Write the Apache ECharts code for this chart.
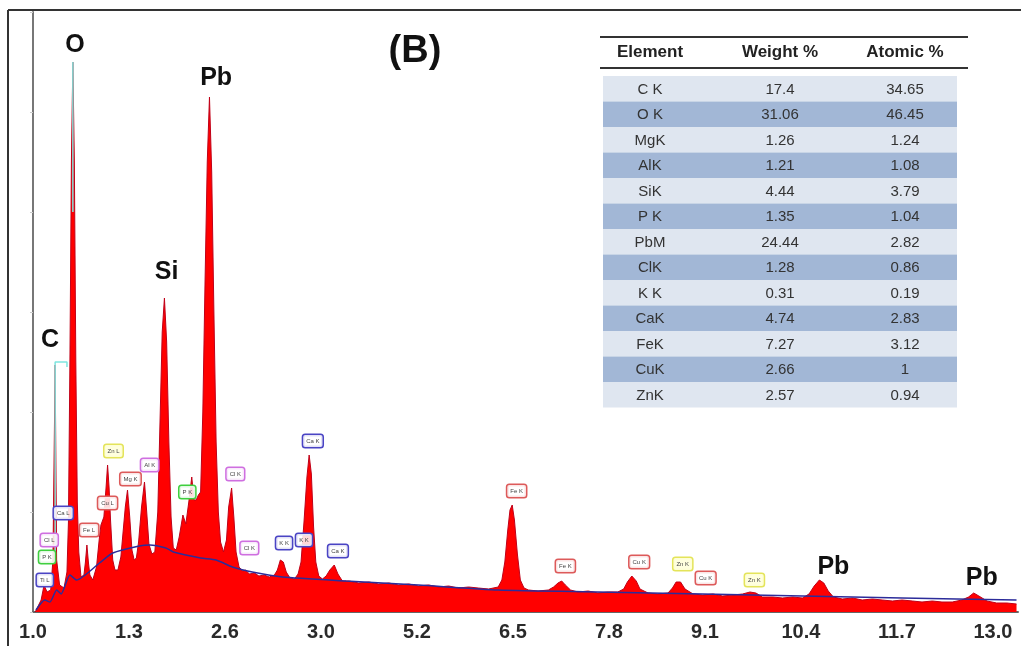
<!DOCTYPE html>
<html><head><meta charset="utf-8">
<script src="https://cdn.jsdelivr.net/npm/echarts@6/dist/echarts.min.js"></script>
<style>html,body{margin:0;padding:0;background:#fff}#c{width:1021px;height:646px}</style>
</head><body><div id="c"></div>
<script>
// x tick labels as printed on the original figure (energy, keV)
const tickLabels = ['1.0','1.3','2.6','3.0','5.2','6.5','7.8','9.1','10.4','11.7','13.0'];

// EDS spectrum [energy keV, counts]
const spectrum = [
[0.03,0],[0.07,6],[0.11,12],[0.15,27],[0.19,20],[0.24,22],[0.27,52],[0.30,247],[0.32,52],[0.36,27],
[0.42,24],[0.46,40],[0.48,90],[0.50,250],[0.52,450],[0.54,550],[0.56,450],[0.58,250],[0.60,110],[0.62,60],
[0.65,35],[0.69,37],[0.71,50],[0.73,67],[0.75,50],[0.77,37],[0.81,32],[0.86,45],[0.90,75],[0.92,87],
[0.96,95],[0.99,125],[1.01,147],[1.03,125],[1.05,92],[1.08,52],[1.11,42],[1.15,42],[1.19,55],[1.22,80],
[1.25,105],[1.28,122],[1.31,95],[1.34,62],[1.37,52],[1.40,54],[1.43,70],[1.47,105],[1.51,130],[1.54,100],
[1.57,68],[1.61,58],[1.65,60],[1.69,100],[1.72,190],[1.75,280],[1.78,314],[1.81,270],[1.84,170],[1.87,95],
[1.90,64],[1.94,62],[1.98,75],[2.03,97],[2.07,88],[2.11,110],[2.15,135],[2.18,112],[2.21,112],[2.24,117],
[2.27,120],[2.30,200],[2.33,330],[2.36,450],[2.39,515],[2.42,440],[2.45,300],[2.48,170],[2.51,100],[2.54,70],
[2.58,60],[2.62,72],[2.65,105],[2.69,124],[2.72,95],[2.75,60],[2.79,45],[2.84,41],[2.88,42],[2.93,38],
[3.00,39],[3.06,36],[3.13,37],[3.20,35],[3.27,37],[3.31,42],[3.35,52],[3.39,50],[3.43,40],[3.48,34],
[3.54,33],[3.59,38],[3.63,50],[3.67,90],[3.71,135],[3.74,157],[3.77,138],[3.80,85],[3.83,50],[3.87,36],
[3.92,33],[3.97,36],[4.02,42],[4.08,47],[4.13,38],[4.19,31],[4.28,31],[4.41,29],[4.55,30],[4.68,28],
[4.82,29],[4.95,27],[5.09,28],[5.22,26],[5.36,27],[5.49,25],[5.63,26],[5.76,24],[5.90,25],[6.03,24],
[6.17,23],[6.30,25],[6.35,32],[6.39,50],[6.43,82],[6.46,102],[6.49,107],[6.52,92],[6.56,58],[6.60,32],
[6.65,24],[6.71,22],[6.84,21],[6.98,22],[7.05,25],[7.11,29],[7.16,31],[7.21,27],[7.28,22],[7.38,20],
[7.52,21],[7.65,19],[7.79,20],[7.92,20],[8.00,23],[8.05,30],[8.11,36],[8.17,31],[8.22,23],[8.33,19],
[8.46,18],[8.60,19],[8.66,24],[8.71,30],[8.77,30],[8.83,23],[8.94,18],[9.07,17],[9.21,18],[9.34,16],
[9.48,17],[9.61,18],[9.71,20],[9.79,19],[9.88,15],[10.02,15],[10.15,14],[10.29,15],[10.42,14],[10.51,18],
[10.58,26],[10.65,32],[10.71,29],[10.77,21],[10.84,15],[10.96,13],[11.10,14],[11.23,12],[11.37,13],[11.50,12],
[11.64,11],[11.77,12],[11.91,11],[12.04,10],[12.18,11],[12.31,10],[12.45,10],[12.58,12],[12.67,15],[12.74,19],
[12.81,16],[12.92,11],[13.05,9],[13.19,9],[13.32,8]
];

// background (bremsstrahlung) fit [keV, counts]
const continuum = [
[0.04,2],[0.16,12],[0.23,10],[0.32,22],[0.38,18],[0.50,37],[0.59,32],[0.90,49],[1.08,59],[1.44,66],
[1.58,67],[1.80,64],[1.90,60],[2.27,54],[2.48,52],[2.70,45],[2.97,40],[3.38,35],[4.24,31],[5.22,27],
[6.30,22],[7.65,20],[9.07,18],[10.42,16],[11.77,14],[13.32,12]
];

// cyan peak-marker lines
const markerC = [[0.30,60],[0.30,250],[0.46,250],[0.46,245]];
const markerO = [[0.54,400],[0.54,550]];

// big element labels [keV, counts, text]
const peakLabels = [
[0.23,272,'C'],[0.57,567,'O'],[1.81,340,'Si'],[2.48,534,'Pb'],[10.84,45,'Pb'],[12.85,34,'Pb']
];

// small line-identification boxes [keV, counts, text, colour]
const lineBoxes = [
[0.16,32,'Ti L','blue'],[0.19,55,'P K','green'],[0.22,72,'Cl L','violet'],[0.41,99,'Ca L','blue'],
[0.76,82,'Fe L','red'],[1.01,109,'Cu L','red'],[1.09,161,'Zn L','yellow'],[1.32,133,'Mg K','red'],
[1.58,147,'Al K','violet'],[2.09,120,'P K','green'],[2.74,138,'Cl K','violet'],[2.93,64,'Cl K','violet'],
[3.40,69,'K K','blue'],[3.67,72,'K K','blue'],[3.79,171,'Ca K','blue'],[4.13,61,'Ca K','blue'],
[6.55,121,'Fe K','red'],[7.21,46,'Fe K','red'],[8.21,50,'Cu K','red'],[8.80,48,'Zn K','yellow'],
[9.11,34,'Cu K','red'],[9.77,32,'Zn K','yellow']
];

// quantification table
const tableHeader = ['Element','Weight %','Atomic %'];
const tableElements = ['C K','O K','MgK','AlK','SiK','P K','PbM','ClK','K K','CaK','FeK','CuK','ZnK'];
const tableWeight = ['17.4','31.06','1.26','1.21','4.44','1.35','24.44','1.28','0.31','4.74','7.27','2.66','2.57'];
const tableAtomic = ['34.65','46.45','1.24','1.08','3.79','1.04','2.82','0.86','0.19','2.83','3.12','1','0.94'];

const boxColors = {
  blue:  {b:'#4a44c4', f:'rgba(255,255,255,0.85)'},
  violet:{b:'#cf6fe0', f:'rgba(255,255,255,0.85)'},
  green: {b:'#3fcf3f', f:'rgba(255,255,255,0.85)'},
  red:   {b:'#dd5a5a', f:'rgba(255,255,255,0.85)'},
  yellow:{b:'#e4e45a', f:'rgba(255,255,220,0.95)'}
};

const FONT = '"Liberation Sans", Arial, sans-serif';

// table graphic built from arrays
const T = {x:603, w:354, colX:[650,780,905], rowY0:76, rowH:25.5};
const tableGraphics = [];
tableGraphics.push({type:'line', shape:{x1:600,y1:37,x2:968,y2:37}, style:{stroke:'#333',lineWidth:2}});
tableGraphics.push({type:'line', shape:{x1:600,y1:68,x2:968,y2:68}, style:{stroke:'#333',lineWidth:2}});
tableHeader.forEach((h,i)=>tableGraphics.push({type:'text', x:T.colX[i], y:52,
  style:{text:h, font:'bold 17px '+FONT, fill:'#222', align:'center', verticalAlign:'middle'}}));
tableElements.forEach((e,r)=>{
  const y = T.rowY0 + r*T.rowH;
  tableGraphics.push({type:'rect', shape:{x:T.x,y:y,width:T.w,height:T.rowH},
    style:{fill: r%2===0 ? '#dfe6f0' : '#a2b7d6'}});
  [e, tableWeight[r], tableAtomic[r]].forEach((t,i)=>tableGraphics.push({type:'text', x:T.colX[i], y:y+T.rowH/2+1,
    style:{text:t, font:'15px '+FONT, fill:'#333', align:'center', verticalAlign:'middle'}}));
});

const chart = echarts.init(document.getElementById('c'));
chart.setOption({
  animation:false,
  backgroundColor:'#fff',
  grid:{left:33, right:0, top:12, bottom:34},
  xAxis:{type:'value', min:0, max:13.34, interval:1.3,
    axisLine:{show:true, onZero:false, lineStyle:{color:'#666', width:2}},
    axisTick:{show:false}, splitLine:{show:false},
    axisLabel:{margin:10, color:'#2a2a2a', fontSize:20, fontWeight:'bold', fontFamily:FONT,
      formatter:v=>{const k=Math.round(v/1.3); return Math.abs(v-k*1.3)<0.01 ? (tickLabels[k]||'') : '';}}
  },
  yAxis:{type:'value', min:0, max:600,
    axisLine:{show:true, lineStyle:{color:'#777', width:2}},
    axisTick:{show:true, length:3, interval:0, lineStyle:{color:'#ccc'}},
    axisLabel:{show:false}, splitLine:{show:false}},
  series:[
    {type:'line', data:spectrum, showSymbol:false, z:2,
      lineStyle:{color:'#c00018', width:1}, areaStyle:{color:'#ff0000', opacity:1}},
    {type:'line', data:continuum, showSymbol:false, z:3, smooth:0.2,
      lineStyle:{color:'#2c2c9a', width:1.5}},
    {type:'line', data:markerC, showSymbol:false, z:4, lineStyle:{color:'#7fe6e0', width:1.5}},
    {type:'line', data:markerO, showSymbol:false, z:4, lineStyle:{color:'#7fe6e0', width:1.5}},
    {type:'scatter', z:5, symbolSize:0, silent:true, itemStyle:{opacity:1},
      data:lineBoxes.map(d=>({value:[d[0],d[1]], name:d[2],
        label:{borderColor:boxColors[d[3]].b, backgroundColor:boxColors[d[3]].f}})),
      label:{show:true, position:'inside', formatter:p=>p.name, fontSize:6, color:'#444', fontFamily:FONT,
        borderWidth:1.5, borderRadius:2, padding:[3,3]}},
    {type:'scatter', z:6, symbolSize:0, silent:true, itemStyle:{opacity:1},
      data:peakLabels.map(d=>({value:[d[0],d[1]], name:d[2]})),
      label:{show:true, position:'inside', formatter:p=>p.name, fontSize:25, fontWeight:'bold',
        color:'#111', fontFamily:FONT}}
  ],
  graphic:[
    {type:'line', shape:{x1:8,y1:10,x2:1021,y2:10}, style:{stroke:'#333',lineWidth:2}},
    {type:'line', shape:{x1:8,y1:10,x2:8,y2:646}, style:{stroke:'#333',lineWidth:2}},
    {type:'text', x:415, y:52, style:{text:'(B)', font:'bold 38px '+FONT, fill:'#111', align:'center', verticalAlign:'middle'}},
    ...tableGraphics
  ]
});
</script></body></html>
